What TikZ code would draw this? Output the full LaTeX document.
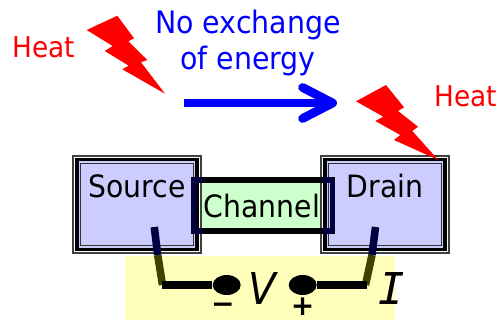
\documentclass[tikz,border=0pt]{standalone}
\usepackage{fontspec}
\setmainfont[FakeStretch=0.92]{DejaVu Sans}
\newfontfamily\monofam{DejaVu Sans Mono}
\newfontfamily\signfam{DejaVu Sans}
\usetikzlibrary{calc,positioning,arrows.meta,shapes.geometric}
\definecolor{boxlilac}{HTML}{CCCCFF}
\definecolor{chgreen}{HTML}{CCFFCC}
\definecolor{padyellow}{HTML}{FFFFBB}
\definecolor{wirenavy}{HTML}{000040}
\definecolor{wireolive}{HTML}{404000}
\definecolor{edgegrey}{HTML}{404040}
\begin{document}
\begin{tikzpicture}[
                x=0.02cm, y=-0.02cm,
                bolt/.style={fill=red, draw=none},
                heat/.style={text=red, font=\fontsize{16.3}{19}\selectfont},
                title/.style={text=blue, font=\fontsize{17.6}{20.8}\selectfont, align=center},
                contact/.style={rectangle, draw=edgegrey, fill=white, line width=1.1pt, inner sep=0pt, outer sep=0pt, minimum width=2.55cm, minimum height=1.94cm},
                contact_in/.style={rectangle, draw=black, line width=2pt, fill=boxlilac, inner sep=0pt, outer sep=0pt, minimum width=2.4cm, minimum height=1.8cm},
                contact_core/.style={rectangle, draw=black!80, line width=0.85pt, inner sep=0pt, outer sep=0pt, minimum width=2.27cm, minimum height=1.65cm},
                label/.style={font=\fontsize{17.5}{20}\selectfont},
                wire/.style={black, line width=4pt},
                lead/.style={line width=4.3pt},
                terminal/.style={ellipse, fill=black, inner sep=0pt, minimum width=0.56cm, minimum height=0.4cm},
                sign/.style={font=\signfam\bfseries\fontsize{16}{18}\selectfont}
            ]
                \useasboundingbox (0, 0) rectangle (498, 320);

                % yellow pad under the meter
                \fill[padyellow] (125, 256) rectangle (395, 320);

                % channel fill, between the two contacts
                \fill[chgreen] (193, 180) rectangle (333, 231);

                % contacts
                \node[contact] (sourceout) at (137, 204.5) {};
                \node[contact_in] (sourcein) at (137, 204.5) {};
                \node[contact_core] (sourcecore) at (137, 204.5) {};
                \node[contact] (drainout) at (385, 204.5) {};
                \node[contact_in] (drainin) at (385, 204.5) {};
                \node[contact_core] (draincore) at (385, 204.5) {};
                \node[label] (source) at (137, 186) {Source};
                \node[label] (drain) at (385, 186) {Drain};

                % channel
                \node[draw=black, line width=3pt, inner sep=0pt, outer sep=0pt, minimum width=2.79cm, minimum height=1.02cm] (channel) at (262.9, 205.5) {};
                \node[label] (chtext) at (262, 206) {Channel};
                \draw[wirenavy, line width=3pt] (channel.north west) -- ++(9, 0) (channel.south west) -- ++(9, 0) (channel.north west) -- (channel.south west);
                \draw[wirenavy, line width=3pt] (channel.north east) -- ++(-10, 0) (channel.south east) -- ++(-10, 0) (channel.north east) -- (channel.south east);

                % meter
                \node[terminal] (minus) at (226.7, 285) {};
                \node[terminal] (plus) at (302.7, 285) {};
                \node[sign] (minussign) at (223, 308) {−};
                \node[sign] (plussign) at (302.7, 307) {+};
                \node[font=\fontsize{25}{28}\selectfont\itshape] (volt) at (262, 288) {V};
                \node[font=\fontsize{25}{28}\selectfont\monofam\itshape] (curr) at (392, 288) {I};

                % wires
                \coordinate (sourcetop) at (154.3, 227);
                \coordinate (sourcemid) at (157.7, 255);
                \coordinate (sourcebend) at (162.5, 285);
                \coordinate (draintop) at (375.5, 227);
                \coordinate (drainmid) at (372, 255);
                \coordinate (drainbend) at (365.5, 285);
                \draw[lead, wirenavy] (sourcetop) -- (sourcemid);
                \draw[lead, wireolive] (sourcemid) -- (sourcebend);
                \draw[lead, wirenavy] (draintop) -- (drainmid);
                \draw[lead, wireolive] (drainmid) -- (drainbend);
                \draw[wire] (162, 285) -- (minus);
                \draw[wire] (plus) -- (367, 285);

                % heat
                \fill[bolt] (86.7,30) -- (117.3,15.7) -- (134,38.3) -- (128.3,41.3) -- (147.3,60) -- (141,62.3) -- (165,93.7) -- (122.3,69.3) -- (128.7,65.7) -- (104.7,51) -- (112.7,46) -- cycle;
                \fill[bolt] (356,101.3) -- (386,85) -- (404,107.3) -- (398,111) -- (418,126.7) -- (412.3,131) -- (438.3,160) -- (394,140) -- (400.3,135) -- (375.3,121) -- (383.3,116.7) -- cycle;
                \node[heat] (heatleft) at (44, 47) {Heat};
                \node[heat] (heatright) at (466, 96) {Heat};

                % exchange arrow
                \node[title] (exchange) at (248, 43) {No exchange\\of energy};
                \coordinate (arrowstart) at (184, 103);
                \coordinate (arrowend) at (337, 103);
                \draw[-{Straight Barb[round,length=0.6cm,width=0.62cm]}, blue, line width=5pt] (arrowstart) -- (arrowend);
            \end{tikzpicture}
\end{document}
